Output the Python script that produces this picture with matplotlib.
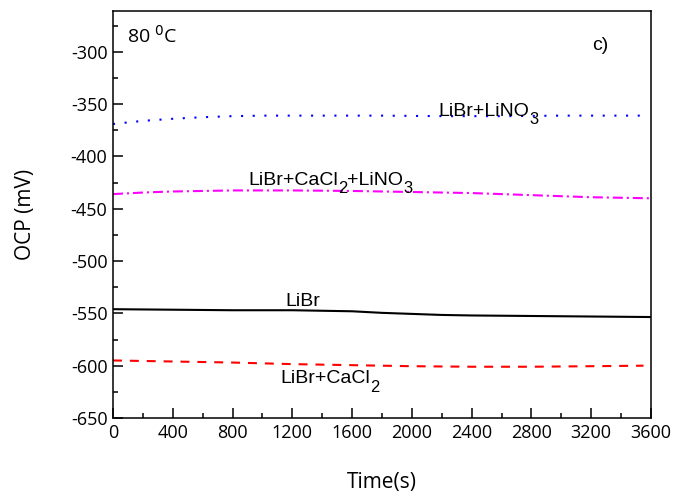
import matplotlib
matplotlib.use("Agg")
import matplotlib.pyplot as plt
from matplotlib.ticker import MultipleLocator

# data (time in s, OCP in mV)
t_lino3 = [0, 200, 400, 600, 800, 1000, 1400, 1800, 2200, 2600, 3000, 3400, 3560]
ocp_lino3 = [-369, -366, -364, -362.5, -361.5, -361, -361, -361, -361.5, -361.5, -361, -361, -361]

t_ca_lino3 = [0, 200, 400, 600, 800, 1200, 1600, 2000, 2400, 2800, 3200, 3600]
ocp_ca_lino3 = [-436, -434.5, -433.5, -433, -432.5, -432.5, -433, -434, -435, -437, -439, -440]

t_libr = [0, 400, 800, 1200, 1600, 1800, 2000, 2200, 2400, 2800, 3200, 3600]
ocp_libr = [-546, -546.5, -547, -547, -548, -549.5, -550.5, -551.5, -552, -552.5, -553, -553.5]

t_ca = [0, 400, 800, 1200, 1600, 2000, 2400, 2800, 3200, 3550]
ocp_ca = [-595, -596, -597, -598.5, -599.5, -600.5, -601, -601, -600.5, -600]

plt.rcParams['axes.unicode_minus'] = False
tick_font = 'Open Sans'
label_font = 'Liberation Sans'


def chem_label(ax, x, y, parts, size=14):
    # parts: list of (text, is_subscript); subscripts hang well below the baseline
    prev = ax.text(x, y, parts[0][0], fontsize=size, family=label_font)
    for s, sub in parts[1:]:
        if sub:
            prev = ax.annotate(s, xy=(1, 0), xycoords=prev, xytext=(0, -5.3),
                               textcoords='offset points', fontsize=size * 0.85,
                               family=label_font, va='bottom', ha='left')
        else:
            prev = ax.annotate(s, xy=(1, 0), xycoords=prev, xytext=(0, 5.3),
                               textcoords='offset points', fontsize=size,
                               family=label_font, va='bottom', ha='left')
    return prev


fig = plt.figure(figsize=(6.73, 4.95), dpi=100)
ax = fig.add_axes([113 / 673, 1 - 418 / 495, 538 / 673, 407 / 495])

ax.plot(t_libr, ocp_libr, color='black', lw=1.5)
ax.plot(t_ca, ocp_ca, color='red', lw=1.5, dashes=(4.3, 3.8))
ax.plot(t_ca_lino3, ocp_ca_lino3, color='magenta', lw=1.5, dashes=(4.8, 1.9, 1.0, 1.9))
ax.plot(t_lino3, ocp_lino3, color='blue', lw=1.5, dashes=(1.0, 4.6))

ax.set_xlim(0, 3600)
ax.set_ylim(-650, -261)
ax.xaxis.set_major_locator(MultipleLocator(400))
ax.xaxis.set_minor_locator(MultipleLocator(200))
ax.yaxis.set_major_locator(MultipleLocator(50))
ax.yaxis.set_minor_locator(MultipleLocator(25))
ax.tick_params(which='both', direction='in', width=1.1)
ax.tick_params(which='major', length=7, labelsize=13, pad=4)
ax.tick_params(which='minor', length=3.5)
for lab in ax.get_xticklabels() + ax.get_yticklabels():
    lab.set_family(tick_font)
for sp in ax.spines.values():
    sp.set_linewidth(1.1)

ax.set_xlabel('Time(s)', fontsize=15, family=tick_font, labelpad=22)
ax.set_ylabel('OCP (mV)', fontsize=15, family=tick_font, labelpad=25)

ax.text(94, -291.4, '80 $^0$C', fontsize=14, family=tick_font)
ax.text(3205, -298, 'c)', fontsize=14, family=label_font)
chem_label(ax, 2175, -361, [('LiBr+LiNO', False), ('3', True)])
chem_label(ax, 903, -427, [('LiBr+CaCl', False), ('2', True), ('+LiNO', False), ('3', True)])
chem_label(ax, 1151, -543, [('LiBr', False)])
chem_label(ax, 1117, -617, [('LiBr+CaCl', False), ('2', True)])

fig.savefig('out.png', dpi=100)
